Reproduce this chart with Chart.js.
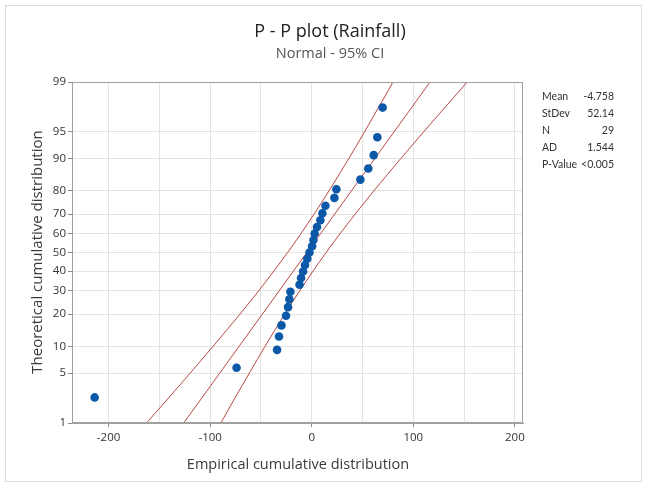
<!DOCTYPE html>
<html>
<head>
<meta charset="utf-8">
<script src="https://cdn.jsdelivr.net/npm/chart.js@4/dist/chart.umd.min.js"></script>
<style>
  html, body { margin: 0; padding: 0; background: #fff; }
  #wrap { width: 647px; height: 487px; }
</style>
</head>
<body>
<div id="wrap"><canvas id="ppCanvas" width="647" height="487"></canvas></div>
<script>
// rainfall values (x) and their plotting positions in percent (y)
const rainfall = [-213.7, -74.0, -34.1, -32.2, -29.8, -25.3, -23.3, -22.0, -21.0, -12.0,
                  -10.5, -8.5, -6.6, -4.4, -2.2, 0.4, 1.7, 2.9, 5.2, 8.5,
                  10.5, 13.5, 22.3, 24.3, 47.9, 55.7, 61.0, 64.6, 69.8];
const percent = [2.4, 5.8, 9.2, 12.6, 16.0, 19.4, 22.8, 26.2, 29.6, 33.0,
                 36.4, 39.8, 43.2, 46.6, 50.0, 53.4, 56.8, 60.2, 63.6, 67.0,
                 70.4, 73.8, 77.2, 80.6, 84.0, 87.4, 90.8, 94.2, 97.6];

// fitted line and 95% CI bands, read at these percent levels
const bandPct = [1, 2, 5, 10, 20, 30, 40, 50, 60, 70, 80, 90, 95, 98, 99];
const fitX   = [-126.1, -111.8, -90.5, -71.6, -48.6, -32.1, -18.0, -4.8, 8.5, 22.6, 39.1, 62.1, 81.0, 102.3, 116.5];
const lowerX = [-162.6, -145.3, -119.6, -97.2, -70.7, -52.3, -37.3, -23.7, -10.8, 2.3, 17.0, 36.5, 51.9, 68.9, 80.0];
const upperX = [-89.5, -78.4, -61.4, -46.0, -26.6, -11.9, 1.3, 14.2, 27.7, 42.8, 61.2, 87.7, 110.1, 135.8, 153.1];

const yTickPct = [1, 5, 10, 20, 30, 40, 50, 60, 70, 80, 90, 95, 99];
const xTicks = [-200, -150, -100, -50, 0, 50, 100, 150, 200];

const stats = [["Mean", "-4.758"], ["StDev", "52.14"], ["N", "29"], ["AD", "1.544"], ["P-Value", "<0.005"]];

// inverse normal cdf, used for the probability axis
function probit(p) {
  const a = [-39.69683028665376, 220.9460984245205, -275.9285104469687, 138.3577518672690, -30.66479806614716, 2.506628277459239];
  const b = [-54.47609879822406, 161.5858368580409, -155.6989798598866, 66.80131188771972, -13.28068155288572];
  const c = [-0.007784894002430293, -0.3223964580411365, -2.400758277161838, -2.549732539343734, 4.374664141464968, 2.938163982698783];
  const d = [0.007784695709041462, 0.3224671290700398, 2.445134137142996, 3.754408661907416];
  const plow = 0.02425;
  let q, r;
  if (p < plow) {
    q = Math.sqrt(-2 * Math.log(p));
    return (((((c[0]*q+c[1])*q+c[2])*q+c[3])*q+c[4])*q+c[5]) / ((((d[0]*q+d[1])*q+d[2])*q+d[3])*q+1);
  }
  if (p > 1 - plow) {
    q = Math.sqrt(-2 * Math.log(1 - p));
    return -(((((c[0]*q+c[1])*q+c[2])*q+c[3])*q+c[4])*q+c[5]) / ((((d[0]*q+d[1])*q+d[2])*q+d[3])*q+1);
  }
  q = p - 0.5;
  r = q * q;
  return (((((a[0]*r+a[1])*r+a[2])*r+a[3])*r+a[4])*r+a[5])*q / (((((b[0]*r+b[1])*r+b[2])*r+b[3])*r+b[4])*r+1);
}

const zOf = pct => probit(pct / 100);
const pairs = (xs, ps) => xs.map((x, i) => ({ x: x, y: zOf(ps[i]) }));

const FONT = "'Open Sans', 'Noto Sans', sans-serif";
const lineRed = "#b84a46";

const decor = {
  id: "decor",
  beforeDraw(chart) {
    const ctx = chart.ctx;
    ctx.save();
    ctx.fillStyle = "#fff";
    ctx.fillRect(0, 0, chart.width, chart.height);
    ctx.strokeStyle = "#dcdcdc";
    ctx.lineWidth = 1;
    ctx.strokeRect(5.5, 5.5, chart.width - 11, chart.height - 11);
    ctx.restore();
  },
  afterDraw(chart) {
    const ctx = chart.ctx;
    const a = chart.chartArea;
    ctx.save();
    ctx.strokeStyle = "#a0a0a0";
    ctx.lineWidth = 1;
    ctx.strokeRect(a.left + 0.5, a.top + 0.5, a.right - a.left - 1, a.bottom - a.top - 1);

    ctx.textAlign = "center";
    ctx.textBaseline = "middle";
    ctx.fillStyle = "#222";
    ctx.font = "18px " + FONT;
    ctx.fillText("P - P plot (Rainfall)", 330, 32);
    ctx.fillStyle = "#555";
    ctx.font = "14.5px " + FONT;
    ctx.fillText("Normal - 95% CI", 330, 54);

    ctx.fillStyle = "#3a3a3a";
    ctx.font = "14.5px " + FONT;
    ctx.fillText("Empirical cumulative distribution", 298, 465);
    ctx.translate(38, 252);
    ctx.rotate(-Math.PI / 2);
    ctx.font = "15px " + FONT;
    ctx.fillText("Theoretical cumulative distribution", 0, 0);
    ctx.setTransform(1, 0, 0, 1, 0, 0);

    ctx.font = "10.5px Lato, " + FONT;
    ctx.fillStyle = "#333";
    stats.forEach((row, i) => {
      const y = 97 + i * 17;
      ctx.textAlign = "left";
      ctx.fillText(row[0], 542, y);
      ctx.textAlign = "right";
      ctx.fillText(row[1], 614, y);
    });
    ctx.restore();
  }
};

const ctx = document.getElementById("ppCanvas");
new Chart(ctx, {
  type: "scatter",
  data: {
    datasets: [
      {
        label: "Rainfall",
        data: pairs(rainfall, percent),
        backgroundColor: "#0b57a8",
        borderWidth: 0,
        pointRadius: 4.3,
        pointHoverRadius: 4.3,
        order: 0
      },
      {
        label: "Fit",
        data: pairs(fitX, bandPct),
        showLine: true,
        borderColor: lineRed,
        borderWidth: 1,
        pointRadius: 0,
        order: 1
      },
      {
        label: "Lower",
        data: pairs(lowerX, bandPct),
        showLine: true,
        cubicInterpolationMode: "monotone",
        borderColor: lineRed,
        borderWidth: 1,
        pointRadius: 0,
        order: 1
      },
      {
        label: "Upper",
        data: pairs(upperX, bandPct),
        showLine: true,
        cubicInterpolationMode: "monotone",
        borderColor: lineRed,
        borderWidth: 1,
        pointRadius: 0,
        order: 1
      }
    ]
  },
  options: {
    responsive: false,
    animation: false,
    layout: { padding: { top: 82, right: 124, bottom: 0, left: 0 } },
    plugins: {
      legend: { display: false },
      tooltip: { enabled: false }
    },
    scales: {
      x: {
        type: "linear",
        min: -236,
        max: 208,
        afterBuildTicks: s => { s.ticks = xTicks.map(v => ({ value: v })); },
        afterFit: s => { s.height = 64; },
        grid: {
          color: "#e3e3e3",
          tickLength: 4,
          tickColor: c => (c.tick && c.tick.value % 100 === 0) ? "#8a8a8a" : "rgba(0,0,0,0)"
        },
        border: { color: "#a0a0a0" },
        ticks: {
          padding: 4,
          color: "#333",
          font: { family: FONT, size: 11.5 },
          callback: v => (v % 100 === 0 ? String(v) : "")
        }
      },
      y: {
        type: "linear",
        min: zOf(1),
        max: zOf(99),
        afterBuildTicks: s => { s.ticks = yTickPct.map(p => ({ value: zOf(p), label: String(p) })); },
        afterFit: s => { s.width = 72; },
        grid: { color: "#e3e3e3", tickLength: 4, tickColor: "#8a8a8a" },
        border: { color: "#a0a0a0" },
        ticks: {
          padding: 2,
          color: "#333",
          font: { family: FONT, size: 11.5 },
          callback: (v, i) => String(yTickPct[i])
        }
      }
    }
  },
  plugins: [decor]
});
</script>
</body>
</html>
